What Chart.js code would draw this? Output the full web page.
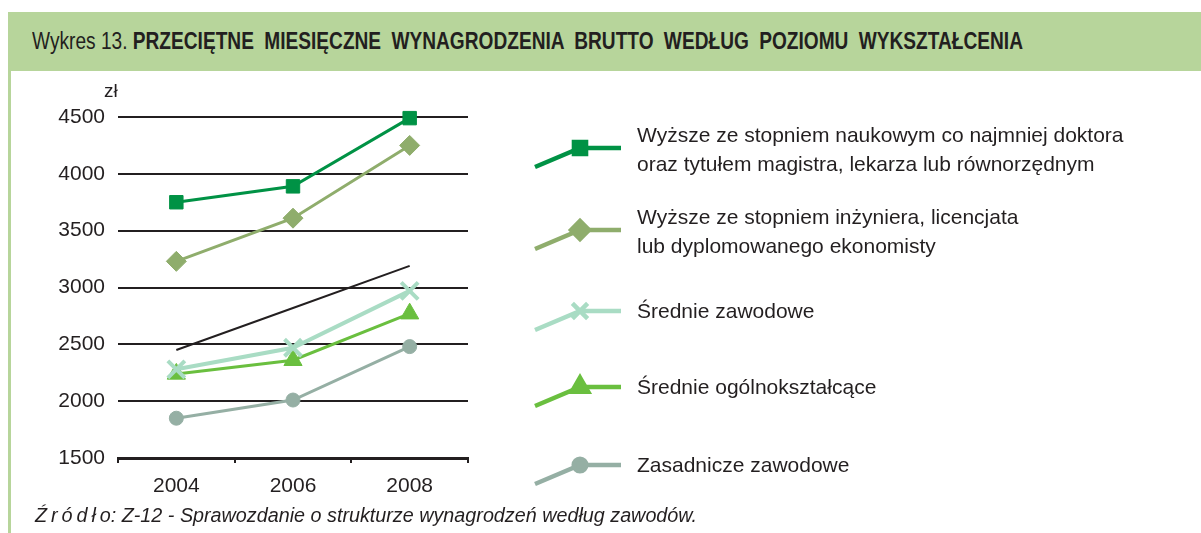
<!DOCTYPE html>
<html>
<head>
<meta charset="utf-8">
<script src="https://cdn.jsdelivr.net/npm/chart.js@4/dist/chart.umd.min.js"></script>
<style>
  body { margin: 0; width: 1201px; height: 533px; overflow: hidden; background: #fff; position: relative; }
  #chart { position: absolute; left: 0; top: 0; }
  .narrow { font-family: "Liberation Sans", Arial, sans-serif; color: #231f20; transform-origin: 0 0; display: inline-block; }
  #titlebar { position: absolute; left: 8px; top: 12px; width: 1193px; height: 59px; background: #b7d59b; }
  #titlebar span.t { position: absolute; left: 24px; top: 16px; font-size: 23px; white-space: nowrap; }
  #titlebar b { word-spacing: 6px; }
  #leftborder { position: absolute; left: 8px; top: 71px; width: 3px; height: 462px; background: #b7d59b; }
  #unit { position: absolute; left: 104px; top: 80px; font-size: 19px; font-family: "Liberation Sans", Arial, sans-serif; color: #231f20; }
  #source { position: absolute; left: 35px; top: 504px; font-size: 20px; font-style: italic; white-space: nowrap; }
</style>
</head>
<body>
<canvas id="chart" width="1201" height="533"></canvas>
<div id="titlebar"><span id="title" class="t narrow">Wykres 13. <b>PRZECIĘTNE MIESIĘCZNE WYNAGRODZENIA BRUTTO WEDŁUG POZIOMU WYKSZTAŁCENIA</b></span></div>
<div id="leftborder"></div>
<div id="unit">zł</div>
<div id="source" class="narrow"><span style="letter-spacing:4px">Źródł</span>o: Z-12 - Sprawozdanie o strukturze wynagrodzeń według zawodów.</div>
<script>
// dane z wykresu
var years = ["2004", "2006", "2008"];
var yTicks = [1500, 2000, 2500, 3000, 3500, 4000, 4500];

var wyzszeNaukowe = [3750, 3890, 4490];
var wyzszeInzynier = [3230, 3610, 4250];
var sredZawodowe = [2280, 2470, 2970];
var sredOgolne = [2240, 2360, 2770];
var zasadnicze = [1850, 2010, 2480];
var czarnaLinia = [2450, 2820, 3190];

var legendLabels = [
  ["Wyższe ze stopniem naukowym co najmniej doktora", "oraz tytułem magistra, lekarza lub równorzędnym"],
  ["Wyższe ze stopniem inżyniera, licencjata", "lub dyplomowanego ekonomisty"],
  ["Średnie zawodowe"],
  ["Średnie ogólnokształcące"],
  ["Zasadnicze zawodowe"]
];

var legendY = [148, 230, 311, 387, 465];

// condensed look: squeeze text to the width it has in the picture
function squeeze(id, targetWidth) {
  var el = document.getElementById(id);
  var w = el.getBoundingClientRect().width;
  el.style.transform = 'scaleX(' + (targetWidth / w) + ')';
}
squeeze('title', 991);
squeeze('source', 662);

var sideLegend = {
  id: 'sideLegend',
  afterDraw: function(chart) {
    var ctx = chart.ctx;
    ctx.save();
    for (var i = 0; i < legendLabels.length; i++) {
      var ds = chart.data.datasets[i];
      var y = legendY[i];
      ctx.strokeStyle = ds.borderColor;
      ctx.lineWidth = 4.5;
      ctx.lineJoin = 'miter';
      ctx.beginPath();
      ctx.moveTo(535, y + 19);
      ctx.lineTo(580, y);
      ctx.lineTo(621, y);
      ctx.stroke();

      ctx.fillStyle = ds.pointBackgroundColor;
      ctx.strokeStyle = ds.pointBorderColor;
      Chart.helpers.drawPoint(ctx, {
        pointStyle: ds.pointStyle,
        radius: ds.pointRadius * 0.9,
        borderWidth: ds.pointBorderWidth,
        rotation: 0
      }, 580, y);

      ctx.fillStyle = '#231f20';
      ctx.font = '21px "Liberation Sans", Arial, sans-serif';
      ctx.textBaseline = 'middle';
      ctx.textAlign = 'left';
      var lines = legendLabels[i];
      var startY = y - (lines.length - 1) * 29 / 2 + (lines.length > 1 ? 2.5 : 1);
      for (var l = 0; l < lines.length; l++) {
        ctx.fillText(lines[l], 637, startY + l * 29);
      }
    }
    ctx.restore();
  }
};

function series(label, data, color, style, radius, lineW, pBorder) {
  return {
    label: label,
    data: data,
    borderColor: color,
    backgroundColor: color,
    borderWidth: lineW,
    pointStyle: style,
    pointRadius: radius,
    pointHoverRadius: radius,
    pointBackgroundColor: color,
    pointBorderColor: color,
    pointBorderWidth: pBorder,
    tension: 0,
    clip: false,
    fill: false
  };
}

var ctx = document.getElementById("chart");
var chart = new Chart(ctx, {
  type: 'line',
  data: {
    labels: years,
    datasets: [
      series(legendLabels[0].join(" "), wyzszeNaukowe, "#009245", "rect", 9.5, 3, 1),
      series(legendLabels[1].join(" "), wyzszeInzynier, "#8fad6c", "rectRot", 10, 3, 1),
      series(legendLabels[2].join(" "), sredZawodowe, "#a9dcc4", "crossRot", 12, 4, 4),
      series(legendLabels[3].join(" "), sredOgolne, "#6abf3f", "triangle", 10.5, 3, 1),
      series(legendLabels[4].join(" "), zasadnicze, "#95afa4", "circle", 7, 3, 1),
      {
        label: "linia",
        data: czarnaLinia,
        borderColor: "#231f20",
        borderWidth: 2,
        pointRadius: 0,
        fill: false
      }
    ]
  },
  options: {
    responsive: false,
    animation: false,
    events: [],
    layout: { padding: { top: 117, right: 733, bottom: 35, left: 0 } },
    plugins: {
      legend: { display: false },
      tooltip: { enabled: false }
    },
    scales: {
      x: {
        offset: true,
        grid: { offset: true, drawOnChartArea: false, drawTicks: true, tickLength: 5, color: "#231f20", lineWidth: 2 },
        border: { display: true, color: "#231f20", width: 3 },
        ticks: { color: "#231f20", padding: 11, font: { family: '"Liberation Sans", Arial, sans-serif', size: 21 } },
        afterFit: function(scale) { scale.height = 40; }
      },
      y: {
        min: yTicks[0],
        max: yTicks[yTicks.length - 1],
        afterBuildTicks: function(scale) {
          scale.ticks = yTicks.map(function(v) { return { value: v }; });
        },
        grid: { color: "#231f20", lineWidth: 2, drawTicks: false },
        border: { display: false },
        ticks: {
          color: "#231f20",
          padding: 13,
          font: { family: '"Liberation Sans", Arial, sans-serif', size: 21 },
          callback: function(v) { return String(v); }
        },
        afterFit: function(scale) { scale.width = 118; }
      }
    }
  },
  plugins: [sideLegend]
});
</script>
</body>
</html>
